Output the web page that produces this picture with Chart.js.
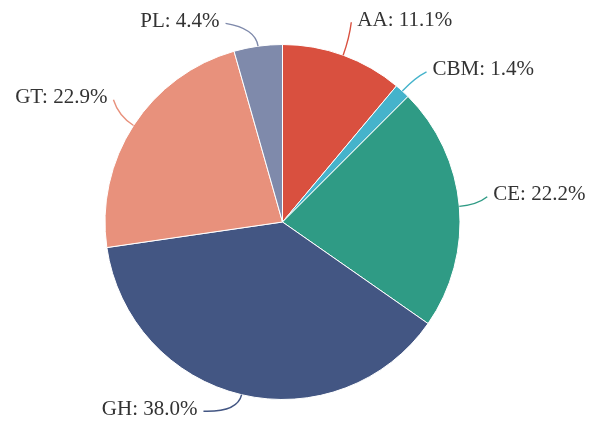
<!DOCTYPE html>
<html>
<head>
<meta charset="utf-8">
<script src="https://cdn.jsdelivr.net/npm/chart.js@4"></script>
<style>
    html, body { margin: 0; padding: 0; background: #fff; }
    #wrap { width: 589px; height: 425px; position: relative; }
</style>
</head>
<body>
<div id="wrap"><canvas id="pie"></canvas></div>
<script>
/* --- Données --- */
const categories = ['AA', 'CBM', 'CE', 'GH', 'GT', 'PL'];
const shares = [11.1, 1.4, 22.2, 38.0, 22.9, 4.4];
const colors = ['#d9503f', '#45b3cb', '#2f9b85', '#435683', '#e8917c', '#7f8aab'];

/* --- Lignes de rappel : longueur horizontale + décalage vertical par étiquette --- */
const leadLen1 = 18;
const leadLen2 = [2, 12, 10, 34, 5, 30];
const leadDy = [-16, -6, -8, -1, -16, -5];

const leaderLabels = {
    id: 'leaderLabels',
    afterDatasetsDraw(chart) {
        const ctx = chart.ctx;
        const meta = chart.getDatasetMeta(0);
        ctx.save();
        meta.data.forEach((arc, i) => {
            const { x, y, startAngle, endAngle, outerRadius } = arc.getProps(['x', 'y', 'startAngle', 'endAngle', 'outerRadius'], true);
            const mid = (startAngle + endAngle) / 2;
            const cos = Math.cos(mid), sin = Math.sin(mid);
            const sx = x + outerRadius * cos, sy = y + outerRadius * sin;
            const ex = x + (outerRadius + leadLen1) * cos, ey = y + (outerRadius + leadLen1) * sin;
            const side = cos >= 0 ? 1 : -1;
            const tx = ex + side * leadLen2[i], ty = ey + leadDy[i];

            ctx.strokeStyle = colors[i];
            ctx.lineWidth = 1.4;
            ctx.beginPath();
            ctx.moveTo(sx, sy);
            ctx.quadraticCurveTo(ex, ey, tx, ty);
            ctx.stroke();

            ctx.fillStyle = '#333';
            ctx.font = '21px "Liberation Serif", "Times New Roman", serif';
            ctx.textBaseline = 'middle';
            ctx.textAlign = side > 0 ? 'left' : 'right';
            ctx.fillText(`${categories[i]}: ${shares[i].toFixed(1)}%`, tx + side * 6, ty - 2);
        });
        ctx.restore();
    }
};

new Chart(document.getElementById('pie').getContext('2d'), {
    type: 'pie',
    data: {
        labels: categories,
        datasets: [{
            data: shares,
            backgroundColor: colors,
            borderColor: '#fff',
            borderWidth: 1
        }]
    },
    options: {
        animation: false,
        responsive: true,
        maintainAspectRatio: false,
        layout: { padding: { top: 44, bottom: 25, left: 0, right: 24 } },
        plugins: {
            legend: { display: false },
            tooltip: { enabled: false }
        }
    },
    plugins: [leaderLabels]
});
</script>
</body>
</html>
